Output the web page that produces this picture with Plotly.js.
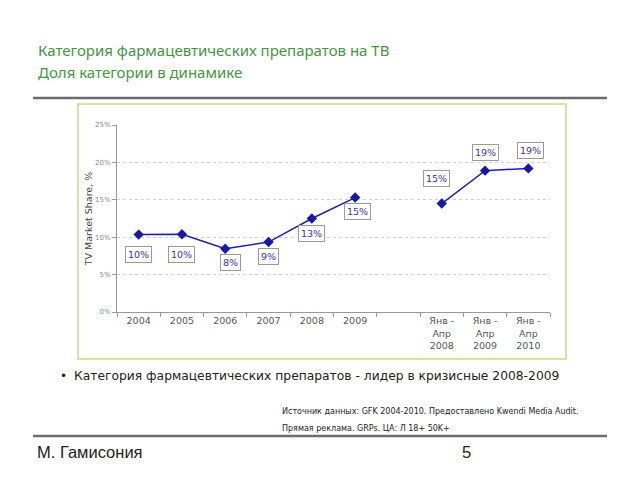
<!DOCTYPE html>
<html>
<head>
<meta charset="utf-8">
<script src="https://cdn.plot.ly/plotly-3.0.1.min.js"></script>
<style>html,body{margin:0;padding:0;background:#fff;}#chart{width:640px;height:480px;}</style>
</head>
<body>
<div id="chart"></div>
<script>
// ---- data ----
var categories = ['2004', '2005', '2006', '2007', '2008', '2009', ' ', 'Янв -<br>Апр<br>2008', 'Янв -<br>Апр<br>2009', 'Янв -<br>Апр<br>2010'];
var shareValues = [10.35, 10.4, 8.45, 9.35, 12.5, 15.3, null, 14.5, 18.9, 19.2];
var shareLabels = ['10%', '10%', '8%', '9%', '13%', '15%', '', '15%', '19%', '19%'];
var yTickValues = [0, 5, 10, 15, 20, 25];

var titleLines = ['Категория фармацевтических препаратов на ТВ', 'Доля категории в динамике'];
var bulletText = 'Категория фармацевтических препаратов - лидер в кризисные 2008-2009';
var sourceLines = ['Источник данных: GFK 2004-2010. Предоставлено Kwendi Media Audit.', 'Прямая реклама. GRPs. ЦА: Л 18+ 50K+'];
var authorText = 'М. Гамисония';
var pageNumber = '5';

// ---- layout helpers ----
var L = 117, R = 550, T = 125, B = 312;
function px(x) { return (x - L) / (R - L); }
function py(y) { return (B - y) / (B - T); }

// label placement (pixel offsets relative to the point)
var labelShift = [[0, -20], [0, -20], [5, -14], [0, -14], [0, -15], [2, -14], [0, 0], [-5, 25], [0, 18], [2, 18]];

var annotations = [];
for (var i = 0; i < categories.length; i++) {
  if (shareValues[i] === null) continue;
  annotations.push({
    x: i, y: shareValues[i], xref: 'x', yref: 'y',
    text: shareLabels[i], showarrow: false,
    xshift: labelShift[i][0], yshift: labelShift[i][1],
    font: {family: 'DejaVu Sans', size: 9.5, color: '#3535a5'},
    bgcolor: '#ffffff', bordercolor: '#9a9a9a', borderwidth: 1, borderpad: 2
  });
}
function txt(text, x, y, size, color, family, xanchor) {
  annotations.push({text: text, x: px(x), y: py(y), xref: 'paper', yref: 'paper',
    showarrow: false, xanchor: xanchor || 'left', yanchor: 'middle',
    font: {family: family, size: size, color: color}});
}
txt(titleLines[0], 36, 50, 15, '#449544', 'Noto Sans');
txt(titleLines[1], 36, 72, 15, '#449544', 'Noto Sans');
txt('•', 58, 376, 12, '#222', 'DejaVu Sans');
txt(bulletText, 72, 376, 12.3, '#222', 'DejaVu Sans');
txt(sourceLines[0], 280, 411, 8, '#222', 'DejaVu Sans');
txt(sourceLines[1], 280, 429, 8, '#222', 'DejaVu Sans');
txt(authorText, 35, 452, 16.5, '#222', 'Liberation Sans');
txt(pageNumber, 460, 452, 16.5, '#222', 'Liberation Sans');

var shapes = [
  {type: 'line', xref: 'paper', yref: 'paper', x0: px(33), x1: px(607), y0: py(98), y1: py(98), line: {color: '#6c6c6c', width: 2.5}},
  {type: 'rect', xref: 'paper', yref: 'paper', x0: px(78), x1: px(566), y0: py(104), y1: py(359), line: {color: '#c4dc86', width: 1.5}},
  {type: 'line', xref: 'paper', yref: 'paper', x0: px(33), x1: px(607), y0: py(436), y1: py(436), line: {color: '#6c6c6c', width: 2.5}}
];

var trace = {
  x: categories, y: shareValues, type: 'scatter', mode: 'lines+markers',
  connectgaps: false,
  line: {color: '#2020aa', width: 1.5},
  marker: {symbol: 'diamond', size: 8, color: '#1818a8'},
  hoverinfo: 'skip'
};

var layout = {
  width: 640, height: 480,
  margin: {l: L, r: 640 - R, t: T, b: 480 - B},
  paper_bgcolor: '#ffffff', plot_bgcolor: '#ffffff',
  showlegend: false,
  xaxis: {
    type: 'category', categoryorder: 'array', categoryarray: categories,
    range: [-0.5, 9.5], tickson: 'boundaries', ticks: 'outside', ticklen: 4, tickcolor: '#999',
    showline: true, linecolor: '#999', linewidth: 1, showgrid: false, zeroline: false,
    tickfont: {family: 'DejaVu Sans', size: 9.5, color: '#555'}, automargin: false, fixedrange: true
  },
  yaxis: {
    range: [0, 25], tickvals: yTickValues, ticktext: yTickValues.map(function (v) { return v + '%'; }),
    ticks: 'outside', ticklen: 4, tickcolor: '#999',
    showline: true, linecolor: '#999', linewidth: 1,
    showgrid: true, gridcolor: '#d0d0d0', griddash: 'dot', zeroline: false,
    tickfont: {family: 'DejaVu Sans', size: 7, color: '#888'},
    title: {text: 'TV Market Share, %', standoff: 0, font: {family: 'DejaVu Sans', size: 9.5, color: '#444'}},
    automargin: false, fixedrange: true
  },
  annotations: annotations,
  shapes: shapes
};

Plotly.newPlot('chart', [trace], layout, {displayModeBar: false, staticPlot: true});
</script>
</body>
</html>
